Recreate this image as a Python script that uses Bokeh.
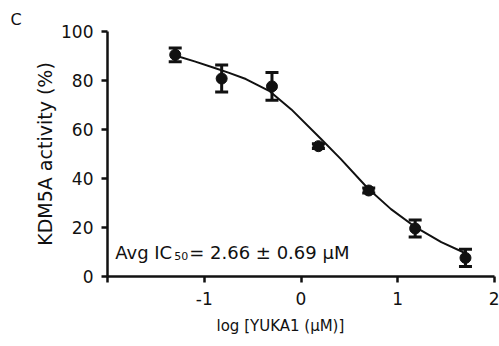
from bokeh.plotting import figure
from bokeh.models import Whisker, ColumnDataSource, FixedTicker, Label, Range1d, Title
from bokeh.embed import file_html
from bokeh.resources import INLINE

# measured data (log concentration in µM, % activity)
log_conc = [-1.30, -0.82, -0.30, 0.18, 0.70, 1.18, 1.70]
activity = [90.5, 80.8, 77.6, 53.2, 35.1, 19.6, 7.6]
sem = [2.8, 5.5, 5.7, 1.0, 1.0, 3.5, 3.5]

# fitted curve
curve_x = [-1.30, -1.10, -0.90, -0.75, -0.57, -0.33, -0.10, 0.21, 0.41, 0.69, 0.93, 1.17, 1.45, 1.70]
curve_y = [90.2, 87.8, 85.2, 83.2, 80.6, 75.8, 68.2, 56.0, 48.0, 36.0, 27.5, 20.5, 14.0, 9.5]

x_ticks = [-2, -1, 0, 1, 2]
x_tick_labels = {-2: "", -1: "-1", 0: "0", 1: "1", 2: "2"}
y_ticks = [0, 20, 40, 60, 80, 100]

FONT = "DejaVu Sans"
INK = "#111111"

p = figure(width=499, height=346, output_backend="svg", toolbar_location=None,
           x_range=Range1d(-2, 2), y_range=Range1d(0, 100),
           min_border_left=107, min_border_right=5, min_border_top=31, min_border_bottom=70)
p.outline_line_color = None
p.grid.grid_line_color = None
p.background_fill_color = "white"
p.border_fill_color = "white"

for ax in (p.xaxis[0], p.yaxis[0]):
    ax.axis_line_width = 2.5
    ax.axis_line_color = INK
    ax.major_tick_line_width = 2.5
    ax.major_tick_line_color = INK
    ax.major_tick_out = 6
    ax.major_tick_in = 0
    ax.minor_tick_line_color = None
    ax.major_label_text_font = FONT
    ax.major_label_text_font_size = "17px"
    ax.major_label_text_color = INK

p.xaxis.ticker = FixedTicker(ticks=x_ticks)
p.xaxis.major_label_overrides = x_tick_labels
p.xaxis.major_label_standoff = 9
p.yaxis.ticker = FixedTicker(ticks=y_ticks)
p.yaxis.major_label_standoff = 8

p.yaxis.axis_label = "KDM5A activity (%)"
p.yaxis.axis_label_text_font = FONT
p.yaxis.axis_label_text_font_size = "19px"
p.yaxis.axis_label_text_font_style = "normal"
p.yaxis.axis_label_text_color = INK
p.yaxis.axis_label_standoff = 2

src = ColumnDataSource(dict(x=log_conc, y=activity,
                            lo=[a - s for a, s in zip(activity, sem)],
                            hi=[a + s for a, s in zip(activity, sem)]))

p.line(curve_x, curve_y, line_color=INK, line_width=2)
w = Whisker(source=src, base="x", lower="lo", upper="hi", dimension="height",
            line_color=INK, line_width=3)
w.upper_head.size = 13
w.lower_head.size = 13
w.upper_head.line_width = 3
w.lower_head.line_width = 3
w.upper_head.line_color = INK
w.lower_head.line_color = INK
p.add_layout(w)
p.scatter("x", "y", source=src, marker="circle", size=11, fill_color=INK, line_color=INK)

# annotation text
p.add_layout(Label(x=-1.92, y=9.8, text="Avg IC", text_font=FONT, text_font_size="18px",
                   text_color=INK, text_baseline="alphabetic"))
p.add_layout(Label(x=-1.92, y=9.8, x_offset=59, y_offset=-4, text="50", text_font=FONT,
                   text_font_size="11px", text_color=INK, text_baseline="alphabetic"))
p.add_layout(Label(x=-1.92, y=9.8, x_offset=74, text="= 2.66 \u00b1 0.69 \u00b5M", text_font=FONT,
                   text_font_size="18px", text_color=INK, text_baseline="alphabetic"))

# x axis label (offset left as in the original)
xt = Title(text="log [YUKA1 (\u00b5M)]", align="left", offset=109, standoff=14,
           text_font=FONT, text_font_size="15px", text_font_style="normal", text_color=INK)
p.add_layout(xt, "below")
# panel letter
ct = Title(text="C", align="left", offset=-97, standoff=6,
           text_font=FONT, text_font_size="16px", text_font_style="normal", text_color=INK)
p.add_layout(ct, "above")

open("out.html", "w").write(file_html(p, INLINE))
